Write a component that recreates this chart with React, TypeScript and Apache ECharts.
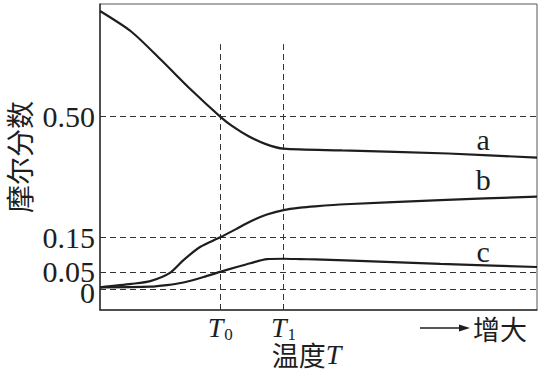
import React, { useEffect, useRef } from "react";
import * as echarts from "echarts";

// x domain: temperature (arbitrary units 0..100, increasing to the right)
const xMin = 0;
const xMax = 100;
const T0 = 27.5;
const T1 = 42;
const xTickValues = [T0, T1];
const xTickSubs = ["0", "1"];

// y domain: molar fraction
const yMin = -0.0606;
const yMax = 0.8264;
const yTickValues = [0, 0.05, 0.15, 0.5];
const yTickLabels = ["0", "0.05", "0.15", "0.50"];
const guideTop = 0.71; // top end of vertical dashed guides

// curve a
const aX = [0, 7.2, 14.0, 20.9, 27.5, 30.2, 34.0, 37.8, 42, 55.4, 79.7, 100];
const aY = [0.806, 0.746, 0.664, 0.577, 0.5, 0.473, 0.443, 0.421, 0.407, 0.402, 0.393, 0.381];
// curve b
const bX = [0, 7.2, 11.5, 16.0, 19.1, 22.9, 27.5, 31.3, 34.4, 38.2, 42, 45.8, 49.2, 56.1, 77.9, 100];
const bY = [0.005, 0.015, 0.023, 0.047, 0.084, 0.122, 0.15, 0.175, 0.196, 0.216, 0.229, 0.236, 0.24, 0.246, 0.258, 0.268];
// curve c
const cX = [0, 11.5, 15.3, 19.1, 23.7, 27.5, 31.3, 34.4, 38.2, 42, 45.8, 49.2, 56.1, 77.9, 100];
const cY = [0.005, 0.007, 0.0115, 0.019, 0.035, 0.05, 0.064, 0.075, 0.087, 0.088, 0.087, 0.086, 0.083, 0.073, 0.064];

const seriesNames = ["a", "b", "c"];
const labelX = 87.7;

const SERIF = '"Liberation Serif", "DejaVu Serif", serif';
const CJK = '"Noto Sans CJK SC", sans-serif';
const INK = "#1e1e1e";

function zip(xs: number[], ys: number[]) {
  return xs.map((x, i) => [x, ys[i]]);
}
function interp(xs: number[], ys: number[], x: number) {
  for (let i = 0; i < xs.length - 1; i++) {
    if (x >= xs[i] && x <= xs[i + 1]) {
      const t = (x - xs[i]) / (xs[i + 1] - xs[i]);
      return ys[i] + t * (ys[i + 1] - ys[i]);
    }
  }
  return ys[ys.length - 1];
}

function curve(name: string, xs: number[], ys: number[], labelOffset: number, extra: any = {}) {
  return {
    name,
    type: "line",
    data: zip(xs, ys),
    smooth: 0.25,
    symbol: "none",
    lineStyle: { color: INK, width: 2.2 },
    z: 5,
    markPoint: {
      symbol: "circle",
      symbolSize: 1,
      itemStyle: { color: "rgba(0,0,0,0)" },
      silent: true,
      label: {
        show: true,
        formatter: name,
        position: "inside",
        offset: [0, labelOffset],
        fontSize: 30,
        fontFamily: SERIF,
        color: INK,
      },
      data: [{ coord: [labelX, interp(xs, ys, labelX)] }],
    },
    ...extra,
  };
}

function yLabelFormatter(v: number) {
  const i = yTickValues.indexOf(v);
  return i >= 0 ? yTickLabels[i] : "";
}

export default function App() {
  const ref = useRef<HTMLDivElement>(null);
  useEffect(() => {
    const chart = echarts.init(ref.current!, null, { renderer: "svg" });
    const dash = { type: [6, 4], color: "#333", width: 1 };
    const baseY = {
      type: "value",
      min: yMin,
      max: yMax,
      axisTick: { show: false },
      splitLine: { show: false },
    };
    const option: any = {
      animation: false,
      backgroundColor: "#fff",
      grid: {
        left: 100,
        right: 2,
        top: 4,
        bottom: 68,
        containLabel: false,
        outerBoundsMode: "none",
        show: true,
        borderColor: "#555",
        borderWidth: 1,
        backgroundColor: "transparent",
      },
      xAxis: {
        type: "value",
        min: xMin,
        max: xMax,
        axisLine: { show: true, onZero: false, lineStyle: { color: "#333", width: 1.5 } },
        axisTick: { show: false },
        splitLine: { show: false },
        axisLabel: {
          customValues: xTickValues,
          margin: 3,
          hideOverlap: false,
          formatter: (v: number) => {
            const i = xTickValues.indexOf(v);
            return "{t|T}{s|" + (i >= 0 ? xTickSubs[i] : "") + "}";
          },
          rich: {
            t: { fontSize: 28, fontStyle: "italic", fontFamily: SERIF, color: INK, lineHeight: 20, verticalAlign: "top" },
            s: { fontSize: 17, fontFamily: SERIF, color: INK, lineHeight: 10, padding: [13, 0, 0, 1], verticalAlign: "top" },
          },
        },
        name: "{c|温度}{t|T}",
        nameLocation: "middle",
        nameGap: 33,
        nameMoveOverlap: false,
        nameTextStyle: {
          padding: [0, 24, 0, 0],
          lineHeight: 22,
          rich: {
            c: { fontSize: 27, fontFamily: CJK, color: INK, lineHeight: 22 },
            t: { fontSize: 28, fontStyle: "italic", fontFamily: SERIF, color: INK, lineHeight: 22 },
          },
        },
      },
      yAxis: [
        {
          ...baseY,
          axisLine: { show: true, onZero: false, lineStyle: { color: "#333", width: 1.5 } },
          axisLabel: {
            customValues: yTickValues.filter((v) => v !== 0),
            margin: 5,
            hideOverlap: false,
            fontSize: 30,
            lineHeight: 18,
            fontFamily: SERIF,
            color: INK,
            formatter: yLabelFormatter,
          },
          name: "摩尔分数",
          nameLocation: "middle",
          nameGap: 67,
          nameMoveOverlap: false,
          nameTextStyle: { fontSize: 28, lineHeight: 28, fontFamily: CJK, color: INK },
        },
        {
          ...baseY,
          position: "left",
          axisLine: { show: false },
          axisLabel: {
            customValues: [0],
            margin: 5,
            hideOverlap: false,
            fontSize: 30,
            lineHeight: 18,
            fontFamily: SERIF,
            color: INK,
            formatter: (v: number) => "{z|" + yLabelFormatter(v) + "}",
            rich: {
              z: { fontSize: 30, fontFamily: SERIF, color: INK, lineHeight: 16, padding: [6, 0, 0, 0] },
            },
          },
        },
      ],
      series: [
        curve(seriesNames[0], aX, aY, -16, {
          markLine: {
            silent: true,
            symbol: ["none", "none"],
            label: { show: false },
            lineStyle: dash,
            z: 1,
            data: [
              ...yTickValues.map((v) => ({ yAxis: v })),
              ...xTickValues.map((t) => [{ coord: [t, yMin] }, { coord: [t, guideTop] }]),
            ],
          },
        }),
        curve(seriesNames[1], bX, bY, -19),
        curve(seriesNames[2], cX, cY, -14),
      ],
      graphic: [
        { type: "line", shape: { x1: 420, y1: 328, x2: 464, y2: 328 }, style: { stroke: INK, lineWidth: 1.5 } },
        { type: "polygon", shape: { points: [[459, 324.5], [470, 328], [459, 331.5]] }, style: { fill: INK } },
        {
          type: "text",
          x: 473,
          y: 328,
          style: { text: "增大", fontSize: 27, fontFamily: CJK, fill: INK, align: "left", verticalAlign: "middle" },
        },
      ],
    };
    chart.setOption(option);
    return () => chart.dispose();
  }, []);
  return (
    <div
      ref={ref}
      style={{ position: "fixed", left: 0, top: 0, width: 539, height: 378, background: "#fff" }}
    />
  );
}
